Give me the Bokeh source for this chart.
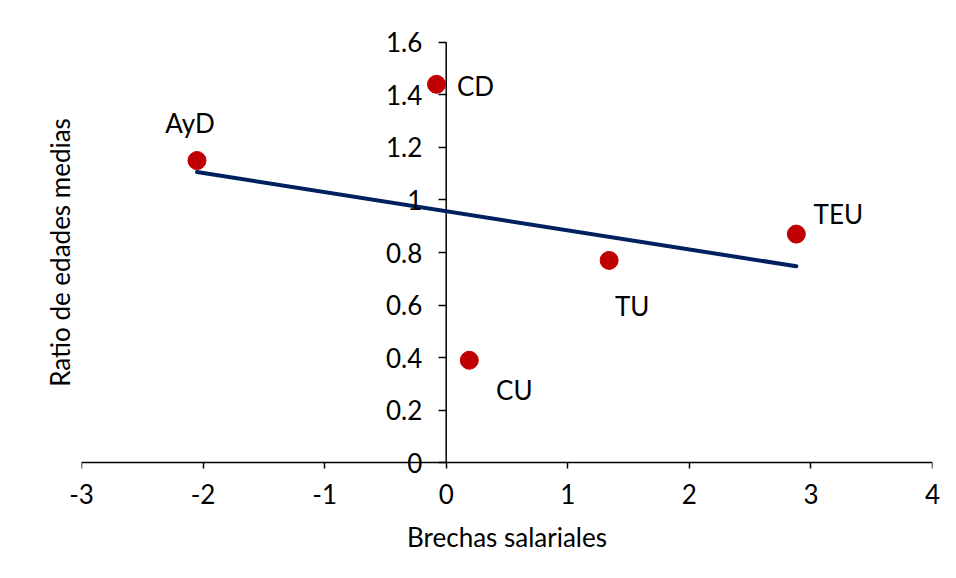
import numpy as np
from bokeh.plotting import figure
from bokeh.models import ColumnDataSource, LinearAxis, FixedTicker, Range1d, Label
from bokeh.core.properties import value
from bokeh.embed import file_html
from bokeh.resources import INLINE

# ---- data ----
categories = ["AyD", "CD", "CU", "TU", "TEU"]
brechas = [-2.05, -0.08, 0.19, 1.34, 2.88]
ratio_edades = [1.15, 1.44, 0.39, 0.77, 0.87]

x_ticks = [-3, -2, -1, 0, 1, 2, 3, 4]
x_tick_labels = ["-3", "-2", "-1", "0", "1", "2", "3", "4"]
y_ticks = [0, 0.2, 0.4, 0.6, 0.8, 1.0, 1.2, 1.4, 1.6]
y_tick_labels = ["0", "0.2", "0.4", "0.6", "0.8", "1", "1.2", "1.4", "1.6"]

x_title = "Brechas salariales"
y_title = "Ratio de edades medias"

# label placement (screen pixel offsets, style only)
label_offsets = {
    "AyD": (-7, -38),
    "CD": (39, 2),
    "CU": (45, 30),
    "TU": (23, 46),
    "TEU": (42, -20),
}

FONT = "Lato"
FS = "26px"
RED = "#C00000"
NAVY = "#002060"
PAD = 0.06  # extra room above/below the value range so edge labels are not clipped

ymin, ymax = min(y_ticks), max(y_ticks)
p = figure(
    output_backend="svg",
    toolbar_location=None,
    frame_width=851,
    frame_height=452,
    min_border_left=81,
    min_border_top=26,
    min_border_bottom=80,
    min_border_right=16,
    x_range=Range1d(min(x_ticks), max(x_ticks)),
    y_range=Range1d(ymin - PAD, ymax + PAD),
    x_axis_location="below",
    y_axis_location="left",
)
p.outline_line_color = None
p.xgrid.visible = False
p.ygrid.visible = False
p.background_fill_color = "white"
p.border_fill_color = "white"

# bottom axis: only the tick labels and the title
xa = p.xaxis[0]
xa.ticker = FixedTicker(ticks=x_ticks)
xa.major_label_overrides = {t: l for t, l in zip(x_ticks, x_tick_labels)}
xa.minor_tick_line_color = None
xa.major_tick_line_color = None
xa.axis_line_color = None
xa.major_tick_in = 0
xa.major_tick_out = 0
xa.major_label_standoff = 5
xa.major_label_text_font = FONT
xa.major_label_text_font_size = FS
xa.major_label_text_color = "black"
xa.axis_label = x_title
xa.axis_label_text_font = FONT
xa.axis_label_text_font_size = FS
xa.axis_label_text_font_style = "normal"
xa.axis_label_text_color = "black"
xa.axis_label_standoff = 14

# x axis line and ticks at y = 0
x0axis = LinearAxis(
    fixed_location=0,
    ticker=FixedTicker(ticks=x_ticks),
    axis_line_color="black",
    axis_line_width=1.5,
    major_tick_line_color="black",
    major_tick_line_width=1.5,
    major_tick_in=0,
    major_tick_out=6,
    minor_tick_line_color=None,
    major_label_text_color=None,
)
p.add_layout(x0axis, "below")

# y axis ticks at x = 0; its line is drawn from the lowest to the highest tick
ya = p.yaxis[0]
ya.fixed_location = 0
ya.ticker = FixedTicker(ticks=y_ticks)
ya.minor_tick_line_color = None
ya.major_tick_in = 0
ya.major_tick_out = 8
ya.axis_line_color = None
ya.major_tick_line_color = "black"
ya.major_tick_line_width = 1.5
ya.major_label_text_color = None
p.segment(x0=[0], y0=[ymin], x1=[0], y1=[ymax], line_color="black", line_width=1.5)

for t, lab in zip(y_ticks, y_tick_labels):
    p.add_layout(Label(x=0, y=t, text=lab, x_offset=-24,
                       text_align="right", text_baseline="middle",
                       text_font=FONT, text_font_size=FS, text_color="black"))

# y axis title on the far left
ylab = LinearAxis(
    ticker=FixedTicker(ticks=[]),
    axis_line_color=None,
    major_tick_line_color=None,
    minor_tick_line_color=None,
    major_tick_out=0,
    major_label_text_font_size="0px",
    axis_label=y_title,
    axis_label_text_font=FONT,
    axis_label_text_font_size=FS,
    axis_label_text_font_style="normal",
    axis_label_text_color="black",
    axis_label_standoff=6,
)
p.add_layout(ylab, "left")

# trend line (least squares fit of the data)
bx = np.array(brechas)
ry = np.array(ratio_edades)
slope, intercept = np.polyfit(bx, ry, 1)
tx = [bx.min(), bx.max()]
ty = [slope * v + intercept for v in tx]
p.line(tx, ty, line_color=NAVY, line_width=4, line_cap="round")

src = ColumnDataSource(dict(
    x=brechas,
    y=ratio_edades,
    name=categories,
    dx=[label_offsets[c][0] for c in categories],
    dy=[label_offsets[c][1] for c in categories],
))
p.scatter("x", "y", source=src, size=18, fill_color=RED, line_color=RED)
p.text("x", "y", text="name", source=src, x_offset="dx", y_offset="dy",
       text_align="center", text_baseline="middle",
       text_font=value(FONT), text_font_size=FS, text_color="black")

open("out.html", "w").write(file_html(p, INLINE))
